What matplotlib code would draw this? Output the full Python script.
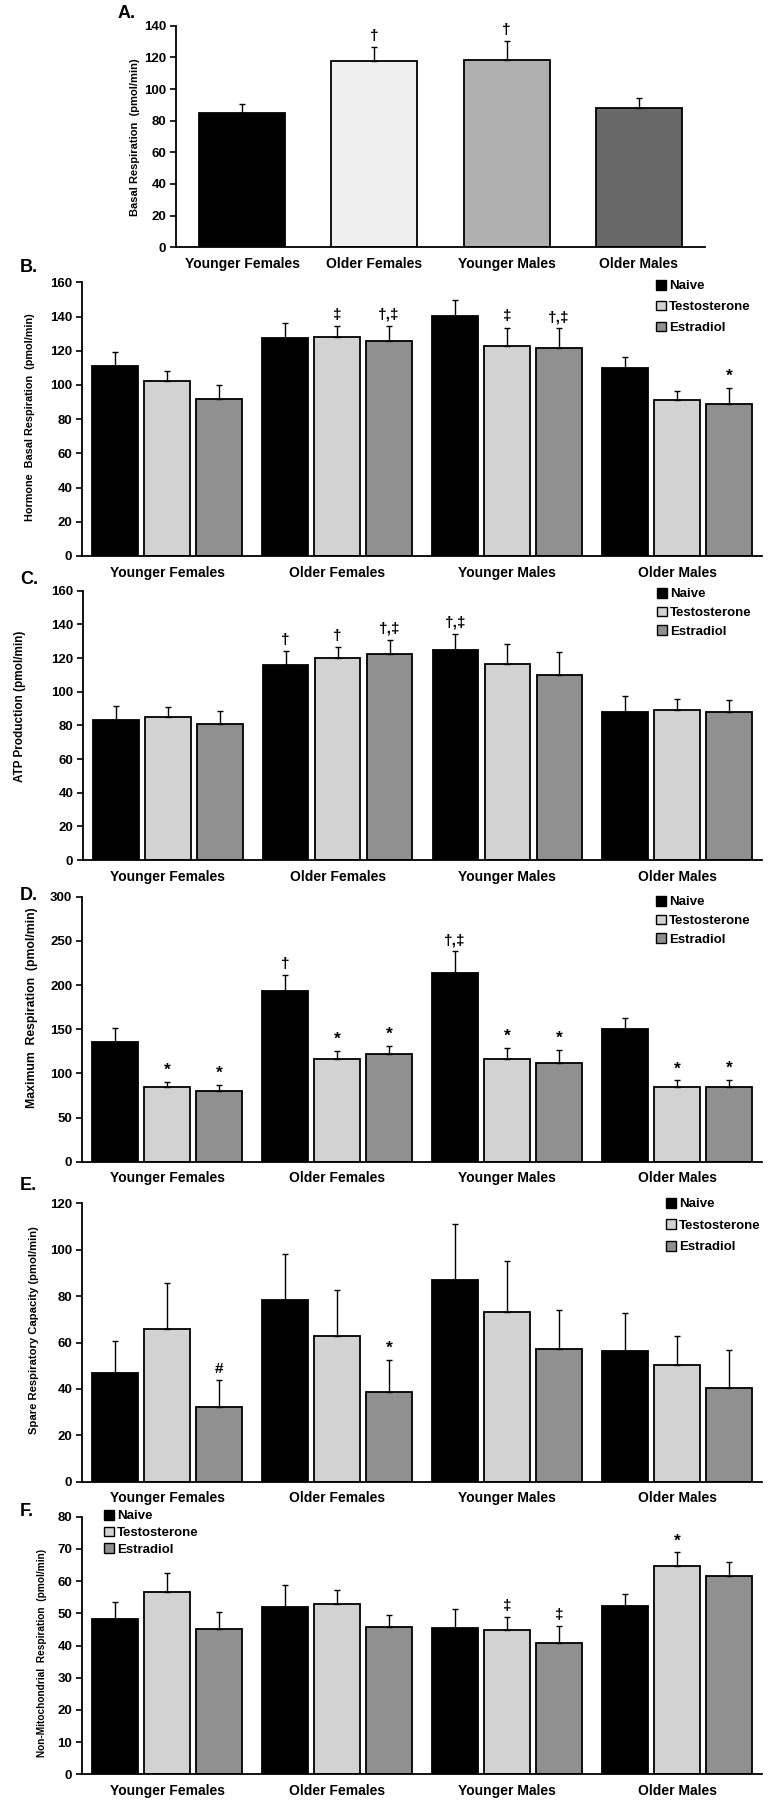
import numpy as np
import matplotlib.pyplot as plt
from matplotlib.patches import Patch

plt.rcParams['font.family'] = ['Liberation Sans', 'DejaVu Sans']
plt.rcParams['font.weight'] = 'bold'

W, H = 769, 1800

groups = ["Younger Females", "Older Females", "Younger Males", "Older Males"]
treatments = ["Naive", "Testosterone", "Estradiol"]

# Panel A
basal = [85, 118, 118.5, 88]
basal_err = [5.5, 8.5, 12, 6.5]
basal_marks = ["", "†", "†", ""]

# Panel B
b_mean = [[111, 127.5, 140.5, 110], [102.5, 128, 122.5, 91], [92, 125.5, 121.5, 89]]
b_err = [[8, 8.5, 9, 6.5], [5.5, 6.5, 11, 5.5], [8, 9, 11.5, 9]]
b_marks = [["", "", "", ""], ["", "‡", "‡", ""], ["", "†,‡", "†,‡", "*"]]

# Panel C
c_mean = [[83, 116, 125, 88], [85, 120, 116.5, 89], [81, 122.5, 110, 88]]
c_err = [[8.5, 8, 9.5, 9.5], [6, 6.7, 11.8, 6.7], [7.7, 8.2, 13.4, 7.3]]
c_marks = [["", "†", "†,‡", ""], ["", "†", "", ""], ["", "†,‡", "", ""]]

# Panel D
d_mean = [[135.5, 193, 213.5, 150], [84.5, 116, 116, 85], [80, 122, 112, 84.5]]
d_err = [[15.5, 18, 24.5, 13], [6, 9.5, 12.8, 7], [7.2, 9.3, 14, 8.3]]
d_marks = [["", "†", "†,‡", ""], ["*", "*", "*", "*"], ["*", "*", "*", "*"]]

# Panel E
e_mean = [[47, 78.5, 87, 56.5], [65.7, 63, 73, 50.3], [32, 38.8, 57.3, 40.4]]
e_err = [[13.6, 19.8, 24.2, 16.2], [20.1, 19.5, 22.3, 12.3], [11.7, 13.8, 16.6, 16.5]]
e_marks = [["", "", "", ""], ["", "", "", ""], ["#", "*", "", ""]]

# Panel F
f_mean = [[48.1, 51.9, 45.4, 52.3], [56.6, 52.8, 44.8, 64.7], [45.0, 45.7, 40.8, 61.6]]
f_err = [[5.5, 6.8, 5.8, 3.6], [5.8, 4.4, 3.9, 4.2], [5.5, 3.9, 5.3, 4.2]]
f_marks = [["", "", "", ""], ["", "", "‡", "*"], ["", "", "‡", ""]]

cols3 = ["#000000", "#d2d2d2", "#909090"]
colsA = ["#000000", "#efefef", "#b0b0b0", "#686868"]


def rect(x0, x1, ytop, ybot):
    return [x0 / W, 1 - ybot / H, (x1 - x0) / W, (ybot - ytop) / H]


def style(ax, ymax, step, ylabel, lsize, lab_x, lab_y, box):
    ax.set_ylim(0, ymax)
    ax.set_xlim(-0.5, 3.5)
    ax.set_yticks(np.arange(0, ymax + 0.1, step))
    for s in ["top", "right"]:
        ax.spines[s].set_visible(False)
    ax.spines["left"].set_linewidth(1.3)
    ax.spines["bottom"].set_linewidth(1.3)
    ax.tick_params(axis="y", length=4, width=1.2, labelsize=9.5, pad=3)
    ax.tick_params(axis="x", length=0, labelsize=10, pad=7)
    ax.set_xticks(range(4))
    ax.set_xticklabels(groups, fontweight="bold")
    for t in ax.get_yticklabels():
        t.set_fontweight("bold")
    ax.set_ylabel(ylabel, fontsize=lsize, fontweight="bold",
                  family=["Liberation Sans Narrow", "Liberation Sans", "DejaVu Sans"])
    x0, x1, yt, yb = box
    ax.yaxis.set_label_coords((lab_x - x0) / (x1 - x0), (yb - lab_y) / (yb - yt))


def mark(ax, x, top, s):
    if s:
        ax.annotate(s, (x, top), xytext=(0, 3), textcoords="offset points",
                    ha="center", va="bottom", fontsize=11 if s != "*" else 12.5,
                    fontweight="bold")


fig = plt.figure(figsize=(W / 100, H / 100), dpi=100)

# ---- Panel A
boxA = (176, 705, 25.7, 247.3)
axA = fig.add_axes(rect(*boxA))
x = np.arange(4)
axA.bar(x, basal, 0.65, color=colsA, edgecolor="black", linewidth=1.3,
        yerr=[np.zeros(4), basal_err], capsize=2.5,
        error_kw=dict(elinewidth=1, capthick=1, ecolor="black"))
for i in range(4):
    mark(axA, x[i], basal[i] + basal_err[i], basal_marks[i])
style(axA, 140, 20, "Basal Respiration  (pmol/min)", 8.0, 140, 137, boxA)
fig.text(118 / W, 1 - 13 / H, "A.", fontsize=13, fontweight="bold", va="center")

# ---- Panels B-F
panels = [
    ("B.", b_mean, b_err, b_marks, 160, 20, "Hormone  Basal Respiration  (pmol/min)", 7.8,
     (82, 762, 282.3, 556), 267, 35, 417, (656, 288, 19)),
    ("C.", c_mean, c_err, c_marks, 160, 20, "ATP Production (pmol/min)", 8.5,
     (83, 762, 590.7, 860), 579, 26, 706, (657, 596, 17.5)),
    ("D.", d_mean, d_err, d_marks, 300, 50, "Maximum  Respiration  (pmol/min)", 8.8,
     (82, 762, 896.7, 1161.7), 896, 38, 1008, (656, 904, 17.5)),
    ("E.", e_mean, e_err, e_marks, 120, 20, "Spare Respiratory Capacity (pmol/min)", 8.1,
     (82, 762, 1203.3, 1481.7), 1186, 39, 1330, (666, 1206, 19.5)),
    ("F.", f_mean, f_err, f_marks, 80, 10, "Non-Mitochondrial  Respiration  (pmol/min)", 7.3,
     (82, 762, 1516.7, 1774.3), 1512, 47, 1653, (104, 1518, 16)),
]

offs = [-0.306, 0, 0.306]
for letter, means, errs, marks, ymax, step, ylab, lsize, box, ly, labx, laby, leg in panels:
    ax = fig.add_axes(rect(*box))
    for k in range(3):
        xs = x + offs[k]
        ax.bar(xs, means[k], 0.268, color=cols3[k], edgecolor="black", linewidth=1.3,
               yerr=[np.zeros(4), errs[k]], capsize=2.5,
               error_kw=dict(elinewidth=1, capthick=1, ecolor="black"))
        for i in range(4):
            mark(ax, xs[i], means[k][i] + errs[k][i], marks[k][i])
    style(ax, ymax, step, ylab, lsize, labx, laby, box)
    fig.text(20 / W, 1 - ly / H, letter, fontsize=13, fontweight="bold", va="center")
    lx, lyy, sp = leg
    handles = [Patch(facecolor=c, edgecolor="black", linewidth=1) for c in cols3]
    fig.legend(handles, treatments, loc="upper left",
               bbox_to_anchor=(lx / W, 1 - (lyy - 8) / H), frameon=False,
               handlelength=0.75, handleheight=0.75, handletextpad=0.25,
               borderpad=0, borderaxespad=0, labelspacing=(sp - 13) / 9.5,
               prop=dict(size=9.5, weight="bold"))

fig.savefig("out.png", dpi=100)
